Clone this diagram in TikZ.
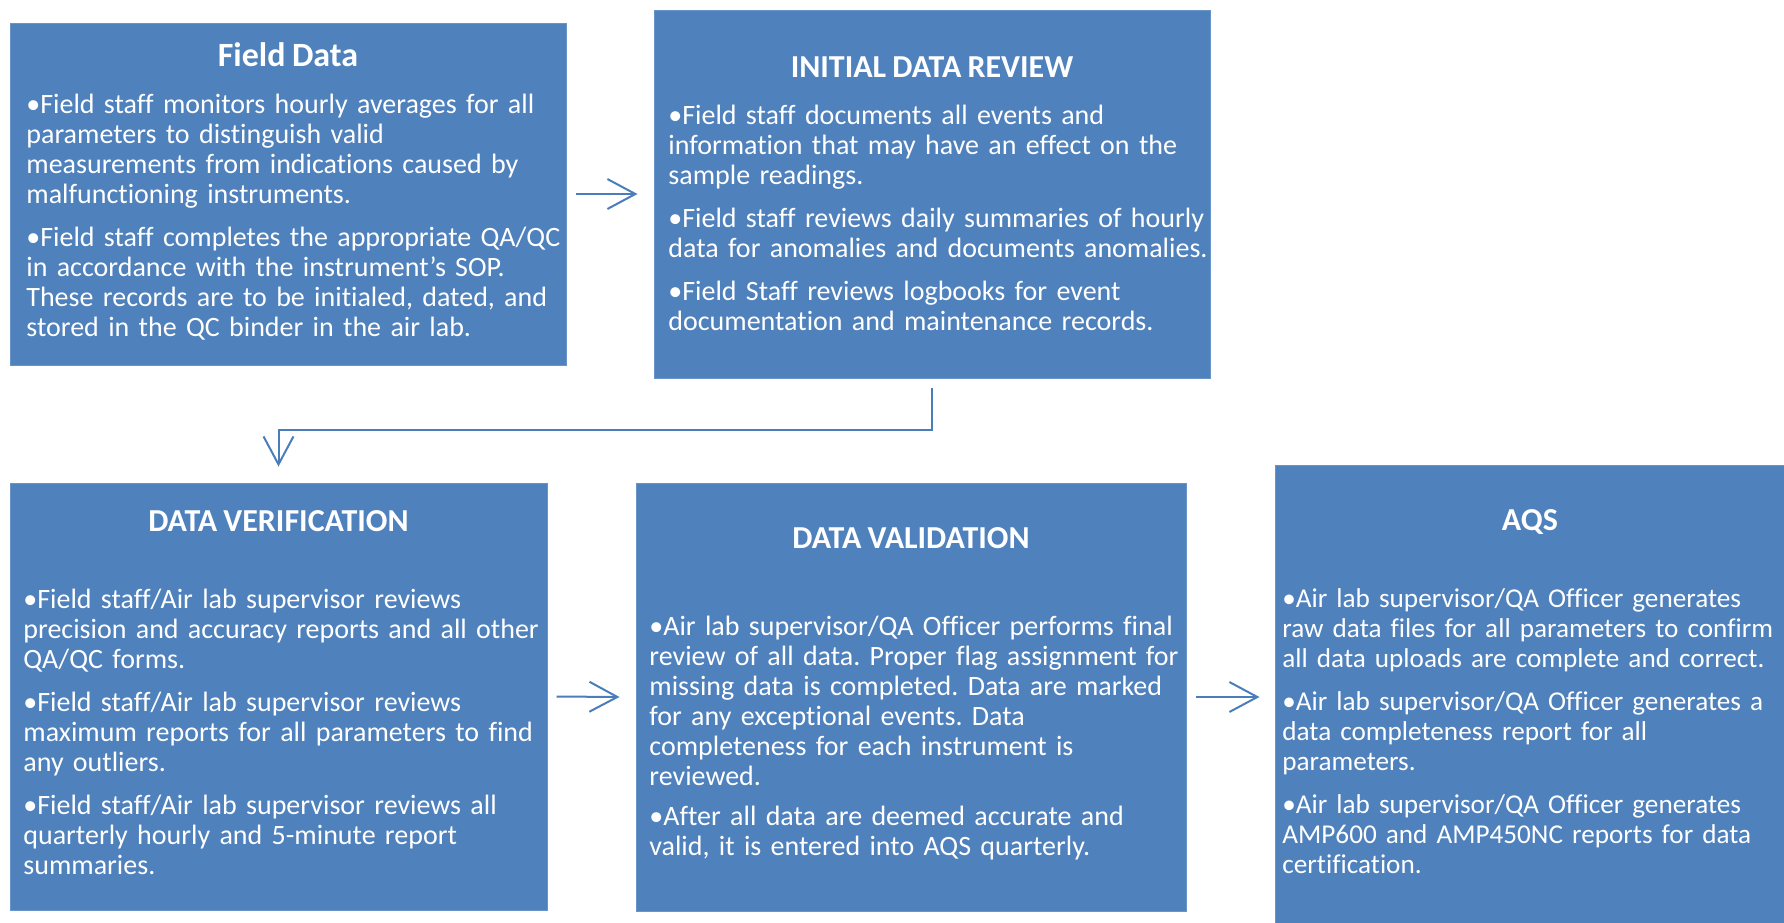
\documentclass[tikz,border=0pt]{standalone}
\usepackage{fontspec}
\setmainfont{Carlito}[Ligatures={TeX,NoCommon}, WordSpace=0.85]
\usetikzlibrary{arrows.meta}
\definecolor{boxblue}{HTML}{4F81BD}
\definecolor{arrowblue}{HTML}{4A7EBB}
\frenchspacing

\begin{document}
\begin{tikzpicture}[x=0.5pt, y=-0.5pt,
    % Styles
    stagebox/.style={fill=boxblue, draw=boxblue!85!white, line width=0.5pt, inner sep=0pt},
    heading/.style={text=white, font=\fontsize{16}{19}\selectfont\bfseries, inner sep=0pt, anchor=base},
    bullets/.style={text=white, font=\fontsize{14}{15}\selectfont, text width=290pt, align=left, inner sep=0pt, anchor=base west},
    arrow/.style={-{Straight Barb[length=14pt, width=15pt]}, line width=1pt, arrowblue},
]

\clip (0,0) rectangle (1784,922);

% Field data
\node[stagebox, minimum width=278pt, minimum height=171pt] (fd) at (288,194) {};
\node[heading, font=\fontsize{17}{20}\selectfont\bfseries] (fdtitle) at (288,66) {Field Data};
\node[bullets] (fdbody) at (26,113) {%
•Field staff monitors hourly averages for all\\
parameters to distinguish valid\\
measurements from indications caused by\\
malfunctioning instruments.\\[6.5pt]
•Field staff completes the appropriate QA/QC\\
in accordance with the instrument's SOP.\\
These records are to be initialed, dated, and\\
stored in the QC binder in the air lab.};

% Initial data review
\node[stagebox, minimum width=278pt, minimum height=184pt] (idr) at (932,194) {};
\node[heading] (idrtitle) at (932,77) {INITIAL DATA REVIEW};
\node[bullets] (idrbody) at (668,124) {%
•Field staff documents all events and\\
information that may have an effect on the\\
sample readings.\\[6.5pt]
•Field staff reviews daily summaries of hourly\\
data for anomalies and documents anomalies.\\[6.5pt]
•Field Staff reviews logbooks for event\\
documentation and maintenance records.};

% Data verification
\node[stagebox, minimum width=268.5pt, minimum height=213.5pt] (dver) at (278.5,696.5) {};
\node[heading] (dvertitle) at (278.5,531) {DATA VERIFICATION};
\node[bullets] (dverbody) at (23,608) {%
•Field staff/Air lab supervisor reviews\\
precision and accuracy reports and all other\\
QA/QC forms.\\[6.5pt]
•Field staff/Air lab supervisor reviews\\
maximum reports for all parameters to find\\
any outliers.\\[6.5pt]
•Field staff/Air lab supervisor reviews all\\
quarterly hourly and 5-minute report\\
summaries.};

% Data validation
\node[stagebox, minimum width=275pt, minimum height=214pt] (dval) at (911,697) {};
\node[heading] (dvaltitle) at (911,548) {DATA VALIDATION};
\node[bullets] (dvalbody) at (649,635) {%
•Air lab supervisor/QA Officer performs final\\
review of all data. Proper flag assignment for\\
missing data is completed. Data are marked\\
for any exceptional events. Data\\
completeness for each instrument is\\
reviewed.\\[5pt]
•After all data are deemed accurate and\\
valid, it is entered into AQS quarterly.};

% AQS (runs off the right and bottom edge)
\node[stagebox, minimum width=267.5pt, minimum height=242.5pt] (aqs) at (1542.5,707.5) {};
\node[heading] (aqstitle) at (1530,530) {AQS};
\node[bullets, font=\fontsize{13.6}{15}\selectfont] (aqsbody) at (1282,607) {%
•Air lab supervisor/QA Officer generates\\
raw data files for all parameters to confirm\\
all data uploads are complete and correct.\\[6.5pt]
•Air lab supervisor/QA Officer generates a\\
data completeness report for all\\
parameters.\\[6.5pt]
•Air lab supervisor/QA Officer generates\\
AMP600 and AMP450NC reports for data\\
certification.};

% Connectors
\coordinate (bend) at (605,430);
\coordinate (aqsin) at (dval.east -| aqs.west);
\draw[arrow] ([xshift=4.5pt]fd.east) -- ([xshift=-8pt]idr.west);
\draw[arrow] ([yshift=-4.5pt]idr.south) |- (bend) -| ([yshift=8pt]dver.north);
\draw[arrow] ([xshift=4.5pt]dver.east) -- ([xshift=-8pt]dval.west);
\draw[arrow] ([xshift=4.5pt]dval.east) -- ([xshift=-7.5pt]aqsin);

\end{tikzpicture}
\end{document}
